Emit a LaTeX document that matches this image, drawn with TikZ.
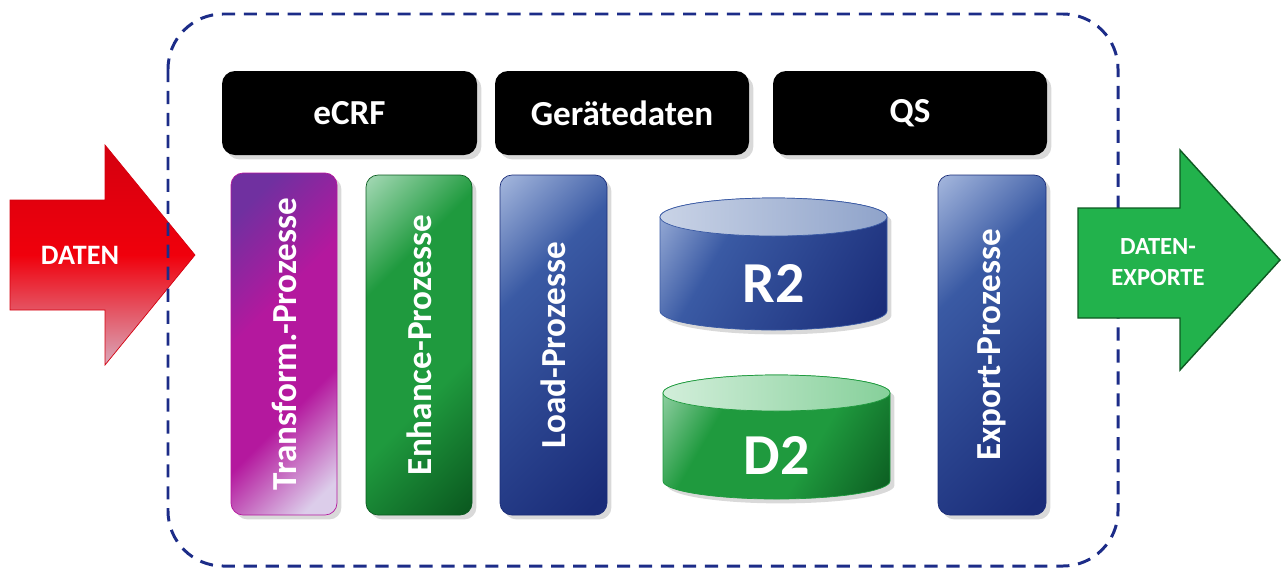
\documentclass[tikz,border=0pt]{standalone}
\usepackage{fontspec}
\setmainfont{Carlito}
\usepackage{xcolor}
\usetikzlibrary{shadows}

\definecolor{framenavy}{HTML}{1C2C88}
\definecolor{tviolet}{HTML}{7030A0}
\definecolor{tmagenta}{HTML}{B4189E}
\definecolor{tlav}{HTML}{DCCDEA}
\definecolor{glight}{HTML}{A9DBB9}
\definecolor{gmid}{HTML}{1F9A3E}
\definecolor{gdark}{HTML}{0B5A20}
\definecolor{blight}{HTML}{A8BADF}
\definecolor{bmid}{HTML}{3A5AA4}
\definecolor{bdark}{HTML}{1A2C78}
\definecolor{arrred}{HTML}{F0000C}
\definecolor{arrdark}{HTML}{D4000F}
\definecolor{arrpink}{HTML}{D9A8BA}
\definecolor{arrgreen}{HTML}{22B24C}
\definecolor{arrgreendark}{HTML}{0E5A22}
\definecolor{rtopl}{HTML}{C9D3E6}
\definecolor{rtopr}{HTML}{8FA3CA}
\definecolor{dtopl}{HTML}{D2EEDA}
\definecolor{dtopr}{HTML}{86D09A}

\pgfdeclarehorizontalshading{transshade}{100bp}{color(0bp)=(tviolet); color(22bp)=(tviolet); color(42bp)=(tmagenta); color(62bp)=(tmagenta); color(80bp)=(tlav); color(100bp)=(tlav)}
\pgfdeclarehorizontalshading{greenshade}{100bp}{color(0bp)=(glight); color(14bp)=(glight); color(34bp)=(gmid); color(60bp)=(gmid); color(84bp)=(gdark); color(100bp)=(gdark)}
\pgfdeclarehorizontalshading{blueshade}{100bp}{color(0bp)=(blight); color(14bp)=(blight); color(36bp)=(bmid); color(82bp)=(bdark); color(100bp)=(bdark)}
\pgfdeclareverticalshading{redshade}{100bp}{color(0bp)=(arrpink); color(25bp)=(arrpink); color(50bp)=(arrred); color(75bp)=(arrdark); color(100bp)=(arrdark)}

\begin{document}
\begin{tikzpicture}[x=0.02cm, y=-0.02cm,
    hdrtext/.style={text=white, font=\fontsize{20}{24}\selectfont\bfseries},
    proctext/.style={text=white, rotate=90, font=\fontsize{20}{24}\selectfont\bfseries},
    dbtext/.style={text=white, font=\fontsize{33}{38}\selectfont\bfseries},
    arrowtext/.style={text=white, font=\fontsize{14}{18}\selectfont\bfseries},
    softshadow/.style={drop shadow={opacity=0.3, shadow xshift=2.5pt, shadow yshift=-2.5pt}}]
      % \draw[help lines, gray!50, very thin] (0,0) grid[step=50] (1283,572);
      \useasboundingbox (0,0) rectangle (1283,572);

      % Eingang
      \shade[shading=redshade, draw=arrdark] (10,200) -- (105,200) -- (105,145) -- (195,255) -- (105,365) -- (105,310) -- (10,310) -- cycle;
      \node[arrowtext, font=\fontsize{16}{18}\selectfont\bfseries] (daten) at (80,255) {DATEN};

      % Rahmen
      \draw[framenavy, line width=1.7pt, dash pattern=on 7.5pt off 5pt, rounded corners=1.1cm] (168,14) rectangle (1118,566);

      % Quellen
      \fill[black, rounded corners=0.26cm, softshadow] (222,71) rectangle node[hdrtext] (ecrf) {eCRF} (477,155);
      \fill[black, rounded corners=0.26cm, softshadow] (495,71) rectangle node[hdrtext] (geraete) {Gerätedaten} (749,155);
      \fill[black, rounded corners=0.26cm, softshadow] (773,71) rectangle node[hdrtext] (qs) {QS} (1047,155);

      % Prozesse
      \shade[shading=transshade, shading angle=-45, draw=tmagenta, rounded corners=0.24cm, softshadow] (231,173) rectangle node[proctext] (transform) {Transform.-Prozesse} (337,515);
      \shade[shading=greenshade, shading angle=-45, draw=gdark, rounded corners=0.24cm, softshadow] (366,175) rectangle node[proctext] (enhance) {Enhance-Prozesse} (472,515);
      \shade[shading=blueshade, shading angle=-45, draw=bdark, rounded corners=0.24cm, softshadow] (500,175) rectangle node[proctext] (load) {Load-Prozesse} (607,515);
      \shade[shading=blueshade, shading angle=-45, draw=bdark, rounded corners=0.24cm, softshadow] (938,175) rectangle node[proctext] (export) {Export-Prozesse} (1046,515);

      % Datenbanken
      \shade[shading=blueshade, shading angle=-30, draw=bmid, softshadow] (660,217) -- (660,311) arc[start angle=180, end angle=0, x radius=113.5, y radius=19] -- (887,217) arc[start angle=360, end angle=180, x radius=113.5, y radius=19] -- cycle;
      \shade[left color=rtopl, right color=rtopr, draw=bmid] (773.5,217) ellipse [x radius=113.5, y radius=19];
      \node[dbtext] (r2) at (773.5,283) {R2};

      \shade[shading=greenshade, shading angle=-30, draw=gmid, softshadow] (663,393) -- (663,481) arc[start angle=180, end angle=0, x radius=113.5, y radius=18] -- (890,393) arc[start angle=360, end angle=180, x radius=113.5, y radius=18] -- cycle;
      \shade[left color=dtopl, right color=dtopr, draw=gmid] (776.5,393) ellipse [x radius=113.5, y radius=18];
      \node[dbtext] (d2) at (776.5,455) {D2};

      % Ausgang
      \fill[arrgreen, draw=arrgreendark, line width=0.8pt] (1078,208) -- (1180,208) -- (1180,150) -- (1280,260) -- (1180,370) -- (1180,318) -- (1078,318) -- cycle;
      \node[arrowtext, align=center] (datenexport) at (1158,262) {DATEN-\\EXPORTE};
    \end{tikzpicture}
\end{document}
